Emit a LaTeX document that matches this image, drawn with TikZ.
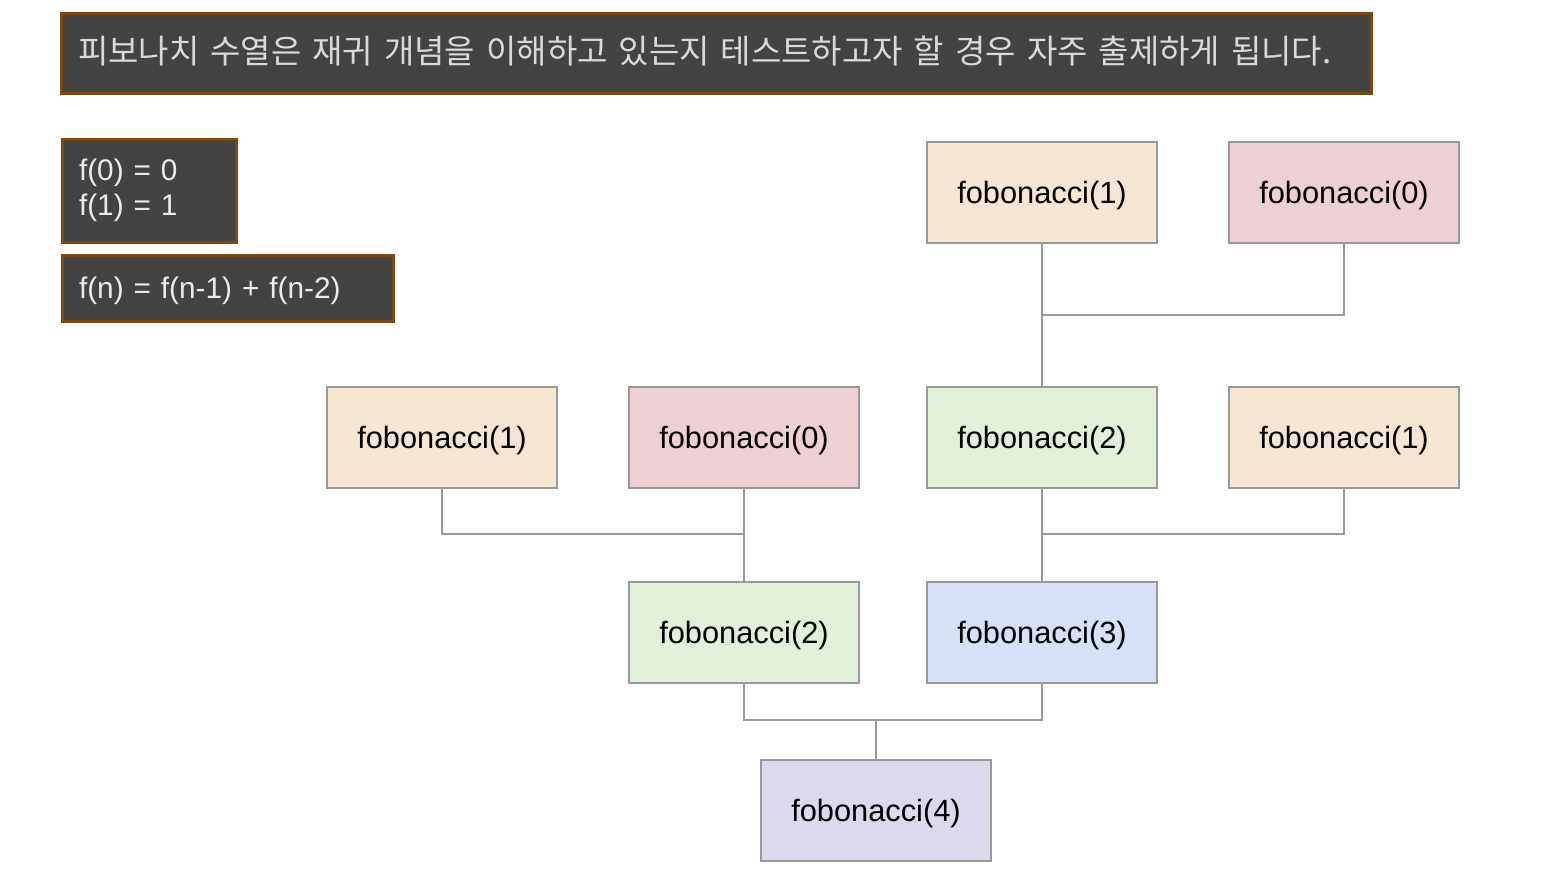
\documentclass[tikz,border=0pt]{standalone}
\usepackage{fontspec}
\setmainfont{Liberation Sans}
\newfontfamily\kofont{Noto Sans CJK KR}
\usepackage{tikz}
\usetikzlibrary{positioning}
\definecolor{slate}{HTML}{434343}
\definecolor{rust}{HTML}{7A4A12}
\definecolor{edgegray}{HTML}{999999}
\definecolor{fibo}{HTML}{F5E6D3}
\definecolor{fibr}{HTML}{EDD0D4}
\definecolor{fibg}{HTML}{E2F0DA}
\definecolor{fibb}{HTML}{D6E1F5}
\definecolor{fibp}{HTML}{DDD8EB}
\tikzset{
  fibnode/.style = {rectangle, draw=edgegray, line width=1pt, inner sep=0pt, text=black,
    text depth=0pt, minimum width=115pt, minimum height=50.5pt,
    font=\fontsize{15.4}{18}\selectfont},
  fib_o/.style = {fibnode, fill=fibo},% appel fib(1)
  fib_r/.style = {fibnode, fill=fibr},% appel fib(0)
  fib_g/.style = {fibnode, fill=fibg},% appel fib(2)
  fib_b/.style = {fibnode, fill=fibb},% appel fib(3)
  fib_p/.style = {fibnode, fill=fibp},% appel fib(4)
  darkbox/.style = {rectangle, draw=rust, fill=slate, line width=1.5pt,
    inner xsep=8.5pt, inner ysep=0pt, align=left, text=white!92!black,
    font=\fontsize{14.9}{17.5}\selectfont}
}
\begin{document}
\begin{tikzpicture}[x=0.5pt,y=-0.5pt,edgegray,line width=1pt]
        \useasboundingbox (0,0) rectangle (1565,878);
        \node [darkbox, minimum width=655pt, minimum height=40pt, text width=638pt,
          text=white!85!black, font=\kofont\fontsize{16.5}{18}\selectfont](title) at (716,53)
          {\raisebox{3.5pt}{피보나치 수열은 재귀 개념을 이해하고 있는지 테스트하고자 할 경우 자주 출제하게 됩니다.}};
        \node [darkbox, minimum width=87pt, minimum height=51.5pt, text width=70pt](base) at (149,190.5)
          {f(0) = 0\\f(1) = 1};
        \node [darkbox, minimum width=165.5pt, minimum height=33pt, text width=148.5pt,
          text depth=0pt](rec) at (227.5,288)
          {f(n) = f(n-1) + f(n-2)};
        % niveau du haut
        \node [fib_o](t1) at (1042,192.5){fobonacci(1)};
        \node [fib_r, right= 35pt of t1](t0){fobonacci(0)};
        % deuxieme niveau
        \node [fib_o](m1) at (442,437.5){fobonacci(1)};
        \node [fib_r, right= 35pt of m1](m0){fobonacci(0)};
        \node [fib_g](m2) at (1042,437.5){fobonacci(2)};
        \node [fib_o, right= 35pt of m2](m3){fobonacci(1)};
        % troisieme niveau
        \node [fib_g, below= 46pt of m0](b2){fobonacci(2)};
        \node [fib_b, below= 46pt of m2](b3){fobonacci(3)};
        % racine
        \node [fib_p](root) at (876,810.5){fobonacci(4)};
        \coordinate (j1) at (1042,315);
        \coordinate (j2) at (744,534);
        \coordinate (j3) at (1042,534);
        \coordinate (j4) at (876,720);
        \draw (t1.south) -- (j1) -| (t0.south);
        \draw (j1) -- (m2.north);
        \draw (m1.south) |- (m0.south |- j2) -- (m0.south);
        \draw (m0.south |- j2) -- (b2.north);
        \draw (m2.south) -- (j3) -| (m3.south);
        \draw (j3) -- (b3.north);
        \draw (b2.south) |- (j4);
        \draw (b3.south) |- (j4);
        \draw (j4) -- (root.north);
        \end{tikzpicture}
\end{document}
